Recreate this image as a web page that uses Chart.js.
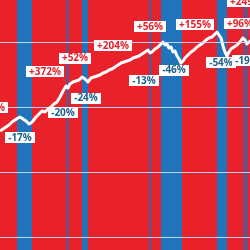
<!DOCTYPE html>
<html>
<head>
<meta charset="utf-8">
<script src="https://cdn.jsdelivr.net/npm/chart.js@4.4.0/dist/chart.umd.min.js"></script>
<style>
  html, body { margin: 0; padding: 0; background: #e8212a; }
  #wrap { width: 250px; height: 250px; }
</style>
</head>
<body>
<div id="wrap"><canvas id="bullBear"></canvas></div>
<script>
// index path (time step, index level on a log scale)
const indexT = [0, 3, 6, 9, 12, 15, 18, 20, 23, 26, 29, 31, 33, 36, 39, 42, 45, 48, 51, 54, 57, 60, 63, 66, 68,
  70, 73, 76, 79, 82, 85, 88, 91, 94, 97, 100, 103, 106, 109, 112, 115, 118, 121, 124, 127, 130, 133, 136, 139,
  142, 145, 148, 150, 152, 155, 158, 161, 163, 165, 167, 169, 171, 173, 175, 177, 179, 181, 183, 185, 188, 191,
  194, 197, 200, 203, 206, 209, 212, 215, 217, 219, 221, 223, 225, 227, 229, 231, 234, 237, 240, 243, 245, 247, 249, 252];
const indexLevel = [435, 467, 501, 538, 599, 643, 691, 716, 667, 621, 558, 578, 621, 716, 797, 885, 855, 951, 1021, 1137, 1220, 1460, 1806, 2157, 2009,
  2320, 2490, 2577, 2670, 2970, 2767, 2490, 2866, 2970, 3080, 3190, 3428, 3550, 3810, 3953, 4240, 4550, 4890, 5070, 5250, 5440, 5840, 6050, 6270,
  6730, 7230, 7770, 6980, 7230, 8050, 8640, 9620, 10330, 9280, 9620, 8340, 8640, 7230, 7500, 6270, 5640, 4890, 5250, 5840, 6500, 7230,
  7770, 8640, 9280, 9960, 11090, 11910, 12340, 13740, 14740, 13250, 11910, 8960, 7230, 6270, 7230, 8050, 8640, 9280, 10330, 11910, 11090, 9620, 10330, 11090];

// bear markets (blue bands)
const bearStart = [17, 82, 161, 217];
const bearEnd = [32, 88, 182, 227];
const shortBearStart = [66, 149, 243];
const shortBearEnd = [69, 152, 248];

// move labels
const moveText = ['+86%', '-17%', '+372%', '-20%', '+52%', '-24%', '+204%', '-13%', '+56%', '-46%', '+155%', '-54%', '+96%', '-19%', '+249%'];
const moveT = [-8, 20, 45, 63, 75, 86, 113, 144, 150, 174, 195, 221, 240, 247, 246];
const moveLevel = [986, 345, 3614, 826, 5840, 1406, 8960, 2624, 17900, 3810, 18920, 4890, 19600, 5250, 42850];

const gridLevels = [10, 100, 1000, 10000];
const yMin = 6.3, yMax = 46000;

function band(s, e, color) {
    return {
        data: [{ x: s, y: yMax }, { x: e, y: yMax }],
        fill: 'start', backgroundColor: color, borderWidth: 0, pointRadius: 0, order: 2
    };
}

const moveLabels = {
    id: 'moveLabels',
    afterDraw(chart) {
        const { ctx, scales: { x, y } } = chart;
        ctx.save();
        ctx.font = 'bold 10px "Open Sans", sans-serif';
        ctx.textAlign = 'center';
        ctx.textBaseline = 'middle';
        moveText.forEach((txt, i) => {
            const px = x.getPixelForValue(moveT[i]);
            const py = y.getPixelForValue(moveLevel[i]);
            const w = ctx.measureText(txt).width + 6;
            const h = 11;
            ctx.fillStyle = '#ffffff';
            ctx.fillRect(Math.round(px - w / 2), Math.round(py - h / 2), Math.round(w), h);
            ctx.fillStyle = txt[0] === '+' ? '#e3232b' : '#1d5f8a';
            ctx.fillText(txt, px, py + 0.5);
        });
        ctx.restore();
    }
};

const datasets = [];
bearStart.forEach((s, i) => datasets.push(band(s, bearEnd[i], '#1f74bb')));
shortBearStart.forEach((s, i) => datasets.push(band(s, shortBearEnd[i], 'rgba(60,100,170,0.7)')));
datasets.push({
    data: indexT.map((t, i) => ({ x: t, y: indexLevel[i] })),
    borderColor: '#ffffff', borderWidth: 3, borderJoinStyle: 'round',
    pointRadius: 0, fill: false, tension: 0, order: 0
});

new Chart(document.getElementById('bullBear').getContext('2d'), {
    type: 'line',
    data: { datasets },
    options: {
        responsive: true, maintainAspectRatio: false, animation: false, events: [],
        layout: { padding: 0, autoPadding: false },
        scales: {
            x: { type: 'linear', min: 0, max: 250, display: false },
            y: {
                type: 'logarithmic', min: yMin, max: yMax,
                afterBuildTicks: s => { s.ticks = gridLevels.map(v => ({ value: v })); },
                ticks: { display: false },
                grid: { color: 'rgba(205,222,255,0.9)', lineWidth: 1, drawTicks: false, z: 1 },
                border: { display: false }
            }
        },
        plugins: { legend: { display: false }, tooltip: { enabled: false } }
    },
    plugins: [moveLabels]
});
</script>
</body>
</html>
